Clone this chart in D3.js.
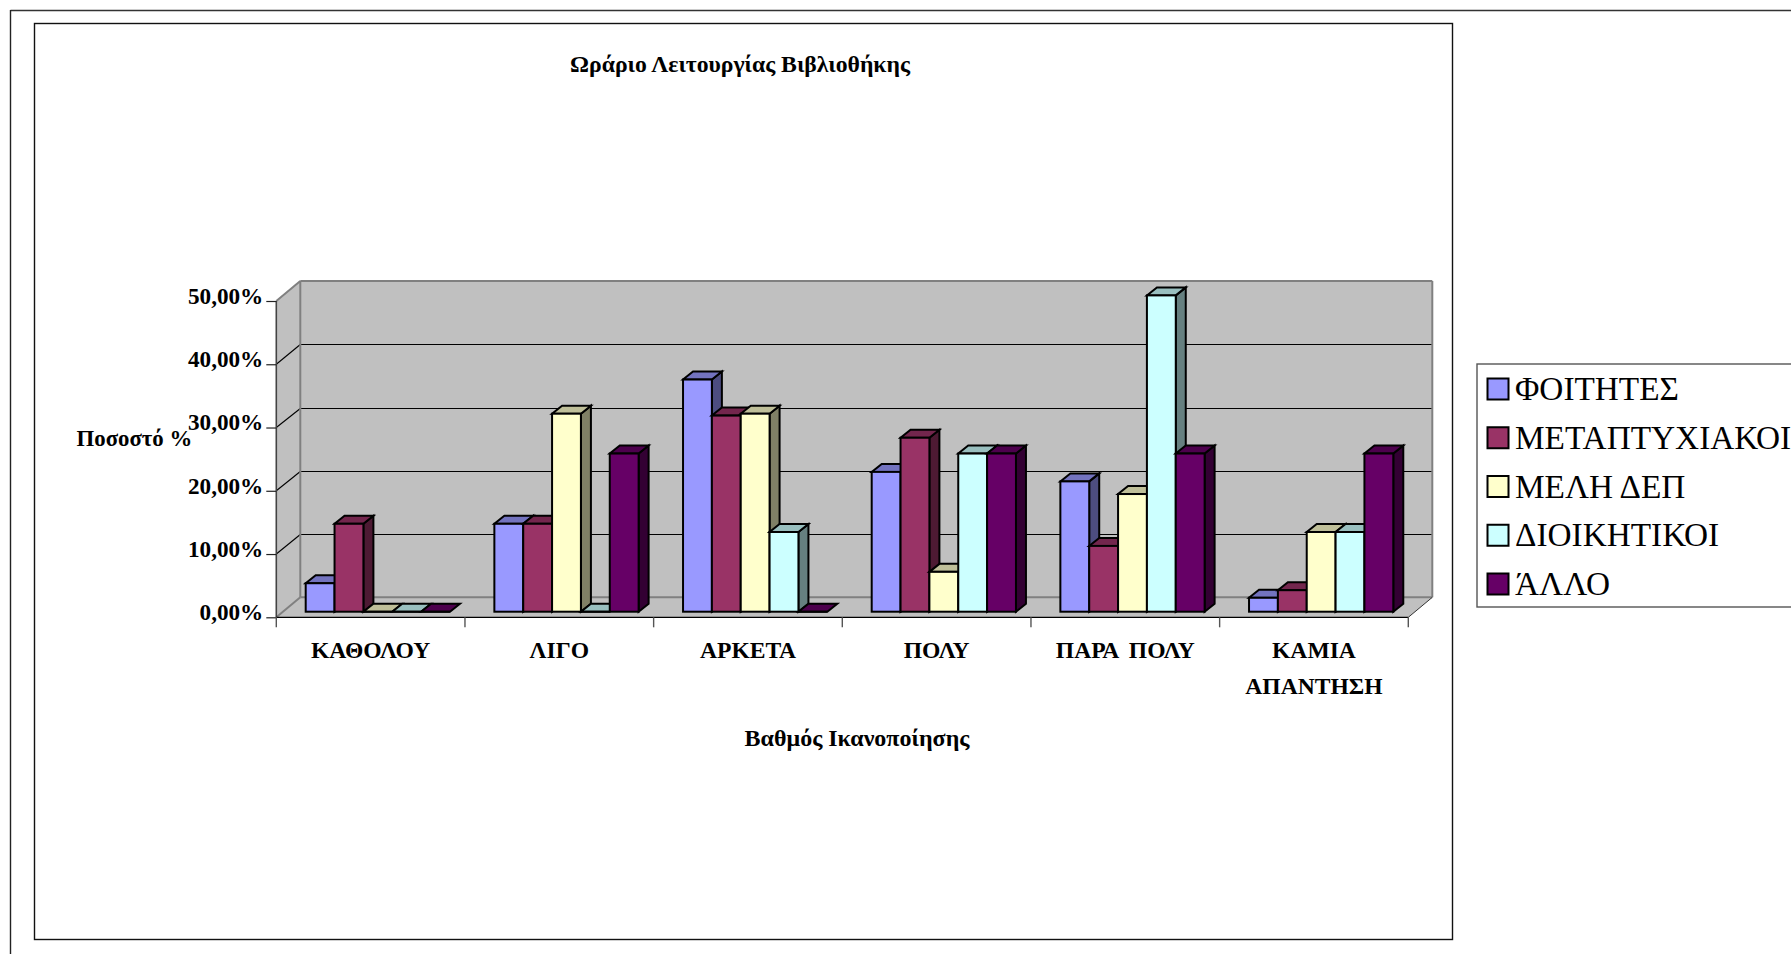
<!DOCTYPE html>
<html><head><meta charset="utf-8">
<script src="https://cdn.jsdelivr.net/npm/d3@7"></script>
<style>
html,body{margin:0;padding:0;background:#fff;overflow:hidden}
svg{display:block}
text{font-family:"Liberation Serif",serif;fill:#000}
.b{font-weight:bold}
</style></head><body>
<script>
const categories = [["ΚΑΘΟΛΟΥ"],["ΛΙΓΟ"],["ΑΡΚΕΤΑ"],["ΠΟΛΥ"],["ΠΑΡΑ ΠΟΛΥ"],["ΚΑΜΙΑ","ΑΠΑΝΤΗΣΗ"]];
const seriesNames = ["ΦΟΙΤΗΤΕΣ","ΜΕΤΑΠΤΥΧΙΑΚΟΙ","ΜΕΛΗ ΔΕΠ","ΔΙΟΙΚΗΤΙΚΟΙ","ΆΛΛΟ"];
const foitites = [4.5,13.9,36.7,22.1,20.6,2.2];
const metaptyxiakoi = [13.9,13.9,31.0,27.5,10.4,3.4];
const meliDep = [0,31.3,31.3,6.3,18.6,12.6];
const dioikitikoi = [0,0,12.6,25.0,50.0,12.6];
const allo = [0,25.0,0,25.0,25.0,25.0];
const seriesValues = [foitites,metaptyxiakoi,meliDep,dioikitikoi,allo];
const frontColors = ["#9999ff","#993366","#ffffcc","#ccffff","#660066"];
const topColors = ["#7373bf","#73264d","#bfbf99","#99bfbf","#4d004d"];
const sideColors = ["#4d4d80","#4d1a33","#808066","#668080","#330033"];
const yTicks = [0,10,20,30,40,50];
const titleText = "Ωράριο Λειτουργίας Βιβλιοθήκης";
const xTitle = "Βαθμός Ικανοποίησης";
const yTitle = "Ποσοστό %";

const W=1791,H=954;
const svg=d3.select("body").append("svg").attr("width",W).attr("height",H);

// frames
const line=(x1,y1,x2,y2,s,w,g=svg)=>g.append("line").attr("x1",x1).attr("y1",y1).attr("x2",x2).attr("y2",y2).attr("stroke",s).attr("stroke-width",w);
line(10.5,10.5,W,10.5,"#333",1.6); line(10.5,10,10.5,H,"#222",1.4);
svg.append("rect").attr("x",34.5).attr("y",23.5).attr("width",1418).attr("height",916).attr("fill","#fff").attr("stroke","#111").attr("stroke-width",1.4);

const plotL=276.3,plotR=1408.3,plotB=617.3,plotT=301;
const wallDx=24,wallDy=-20;
const x=d3.scaleBand().domain(d3.range(categories.length)).range([plotL,plotR]);
const y=d3.scaleLinear().domain([0,50]).range([plotB,plotT]);
const poly=(pts,fill,stroke,sw)=>svg.append("polygon").attr("points",pts.map(p=>p.join(",")).join(" ")).attr("fill",fill).attr("stroke",stroke||"none").attr("stroke-width",sw||0);

// walls
poly([[plotL,plotB],[plotL+wallDx,plotB+wallDy],[plotL+wallDx,plotT+wallDy],[plotL,plotT]],"#c0c0c0");
poly([[plotL+wallDx,plotB+wallDy],[plotR+wallDx,plotB+wallDy],[plotR+wallDx,plotT+wallDy],[plotL+wallDx,plotT+wallDy]],"#c0c0c0");
poly([[plotL,plotB],[plotR,plotB],[plotR+wallDx,plotB+wallDy],[plotL+wallDx,plotB+wallDy]],"#c0c0c0");
// gridlines
yTicks.slice(1,-1).forEach(t=>{
  const gyPos=Math.round(y(t)+wallDy)+0.5;
  line(plotL,y(t),plotL+wallDx,gyPos,"#000",1.1);
  line(plotL+wallDx,gyPos,plotR+wallDx,gyPos,"#000",1.2);
});
// wall edges
const grey="#808080";
line(plotL+wallDx,plotT+wallDy,plotR+wallDx,plotT+wallDy,grey,2);
line(plotL+wallDx,plotT+wallDy,plotL+wallDx,plotB+wallDy,grey,2);
line(plotR+wallDx,plotT+wallDy,plotR+wallDx,plotB+wallDy,grey,2);
line(plotL+wallDx,plotB+wallDy,plotR+wallDx,plotB+wallDy,grey,2);
line(plotL,plotT,plotL+wallDx,plotT+wallDy,grey,2);
line(plotL,plotB,plotL+wallDx,plotB+wallDy,grey,2);
line(plotR,plotB,plotR+wallDx,plotB+wallDy,"#333",1);

// y axis
const yAxis=d3.axisLeft(y).tickValues(yTicks).tickSize(10).tickPadding(3).tickFormat(d=>d3.format(".2f")(d).replace(".",",")+"%");
const gy=svg.append("g").attr("transform",`translate(${plotL},0)`).call(yAxis);
gy.select(".domain").attr("stroke","#444").attr("stroke-width",1.6).attr("d",`M0,${plotT}V${plotB}`);
gy.selectAll(".tick line").attr("stroke","#222").attr("stroke-width",1.2);
gy.selectAll(".tick text").attr("class","b").attr("font-size",23.2).attr("font-family",'"Liberation Serif",serif').attr("dy","0.1em");

// x axis
line(plotL,plotB,plotR,plotB,"#000",1.2);
d3.range(categories.length).map(i=>x(i)).concat([plotR]).forEach(t=>line(t,plotB,t,plotB+10,"#555",1.4));
categories.forEach((lines,i)=>lines.forEach((s,j)=>{
  svg.append("text").attr("class","b").attr("x",x(i)+x.bandwidth()/2).attr("y",658+j*36).attr("text-anchor","middle").attr("font-size",23.6).attr("word-spacing",5).text(s);
}));

// bars
const barDx=10,barDy=-8;
const baseY=y(0)-5.6, barOffsetX=29.4, barW=28.85;
const vh=v=>y(0)-y(v);
categories.forEach((_,i)=>{
  seriesValues.forEach((vals,s)=>{
    const v=vals[i], l=x(i)+barOffsetX+s*barW, r=l+barW, t=baseY-vh(v), b=baseY;
    const sw=2;
    if(v>0) poly([[r,b],[r+barDx,b+barDy],[r+barDx,t+barDy],[r,t]],sideColors[s],"#000",sw);
    poly([[l,t],[r,t],[r+barDx,t+barDy],[l+barDx,t+barDy]],topColors[s],"#000",sw);
    if(v>0) svg.append("rect").attr("x",l).attr("y",t).attr("width",barW).attr("height",b-t).attr("fill",frontColors[s]).attr("stroke","#000").attr("stroke-width",sw);
    else line(l,b,r,b,"#000",sw);
  });
});

// titles
svg.append("text").attr("class","b").attr("x",740).attr("y",72).attr("text-anchor","middle").attr("font-size",23.7).text(titleText);
svg.append("text").attr("class","b").attr("x",857).attr("y",746).attr("text-anchor","middle").attr("font-size",24).text(xTitle);
svg.append("text").attr("class","b").attr("x",76.5).attr("y",446).attr("font-size",22.8).text(yTitle);

// legend
svg.append("rect").attr("x",1477).attr("y",364).attr("width",400).attr("height",243).attr("fill","#fff").attr("stroke","#555").attr("stroke-width",1.4);
const legY=d3.scalePoint().domain(seriesNames).range([400,595]);
seriesNames.forEach((n,s)=>{
  svg.append("rect").attr("x",1487.5).attr("y",legY(n)-21.5).attr("width",21).attr("height",21).attr("fill",frontColors[s]).attr("stroke","#000").attr("stroke-width",2);
  svg.append("text").attr("x",1515).attr("y",legY(n)).attr("font-size",33.3).text(n);
});
</script>
</body></html>
